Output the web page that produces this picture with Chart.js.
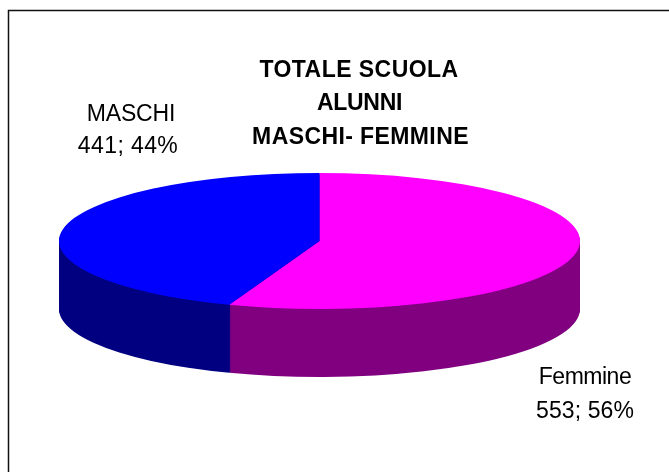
<!DOCTYPE html>
<html>
<head>
<meta charset="utf-8">
<style>
html,body{margin:0;padding:0;background:#fff;overflow:hidden}
#wrap{position:absolute;left:0;top:0;width:669px;height:472px}
</style>
<script src="https://cdn.jsdelivr.net/npm/chart.js@4"></script>
</head>
<body>
<div id="wrap"><canvas id="c" width="669" height="472"></canvas></div>
<script>
const categories = ["Femmine", "MASCHI"];
const values = [553, 441];
const topColors = ["#FF00FF", "#0000FF"];
const sideColors = ["#800080", "#000080"];
const titleLines = ["TOTALE SCUOLA", "ALUNNI", "MASCHI- FEMMINE"];

const FONT = '"Liberation Sans", Arial, sans-serif';
const PIE = {cx: 319.5, cy: 241, rx: 260.5, ry: 68, depth: 68};
const TITLE_POS = [[359, 77, 0.45], [359.5, 110, -0.3], [360.5, 144, 0.4]];
const LABEL_POS = {
  Femmine: {nameX: 585, nameY: 384, valueX: 585, valueY: 418, nameGap: -0.5, valueGap: 0.1},
  MASCHI: {nameX: 131, nameY: 121, valueX: 128, valueY: 153, nameGap: -0.2, valueGap: 0.4}
};

function pieTransform(ctx, meta, dy) {
  const a = meta.data[0];
  const R = a.outerRadius;
  ctx.translate(PIE.cx, PIE.cy + dy);
  ctx.scale(PIE.rx / R, PIE.ry / R);
  ctx.translate(-a.x, -a.y);
}

const flatPie3d = {
  id: "flatPie3d",
  beforeDatasetsDraw(chart) {
    const ctx = chart.ctx;
    const meta = chart.getDatasetMeta(0);
    for (let d = PIE.depth; d >= 1; d--) {
      ctx.save();
      pieTransform(ctx, meta, d);
      meta.data.forEach((arc, i) => {
        const original = arc.options.backgroundColor;
        arc.options.backgroundColor = sideColors[i];
        arc.draw(ctx);
        arc.options.backgroundColor = original;
      });
      ctx.restore();
    }
    ctx.save();
    pieTransform(ctx, meta, 0);
    meta.data.forEach(arc => arc.draw(ctx));
    ctx.restore();
    return false;
  },
  afterDraw(chart) {
    const ctx = chart.ctx;
    ctx.save();
    ctx.strokeStyle = "#111";
    ctx.lineWidth = 1.5;
    ctx.beginPath();
    ctx.moveTo(8.5, 472);
    ctx.lineTo(8.5, 10.5);
    ctx.lineTo(669, 10.5);
    ctx.stroke();

    ctx.fillStyle = "#000";
    ctx.textAlign = "center";
    ctx.textBaseline = "alphabetic";
    ctx.font = "bold 23px " + FONT;
    titleLines.forEach((t, i) => {
      const p = TITLE_POS[i];
      ctx.letterSpacing = p[2] + "px";
      ctx.fillText(t, p[0], p[1]);
    });
    ctx.font = "23px " + FONT;
    const total = values.reduce((s, v) => s + v, 0);
    categories.forEach((name, i) => {
      const p = LABEL_POS[name];
      ctx.letterSpacing = p.nameGap + "px";
      ctx.fillText(name, p.nameX, p.nameY);
      ctx.letterSpacing = p.valueGap + "px";
      ctx.fillText(values[i] + "; " + Math.round(values[i] / total * 100) + "%", p.valueX, p.valueY);
    });
    ctx.restore();
  }
};

new Chart(document.getElementById("c"), {
  type: "pie",
  data: {
    labels: categories,
    datasets: [{data: values, backgroundColor: topColors, borderWidth: 0}]
  },
  options: {
    responsive: false,
    animation: false,
    layout: {padding: 0},
    plugins: {legend: {display: false}, tooltip: {enabled: false}, title: {display: false}}
  },
  plugins: [flatPie3d]
});
</script>
</body>
</html>
